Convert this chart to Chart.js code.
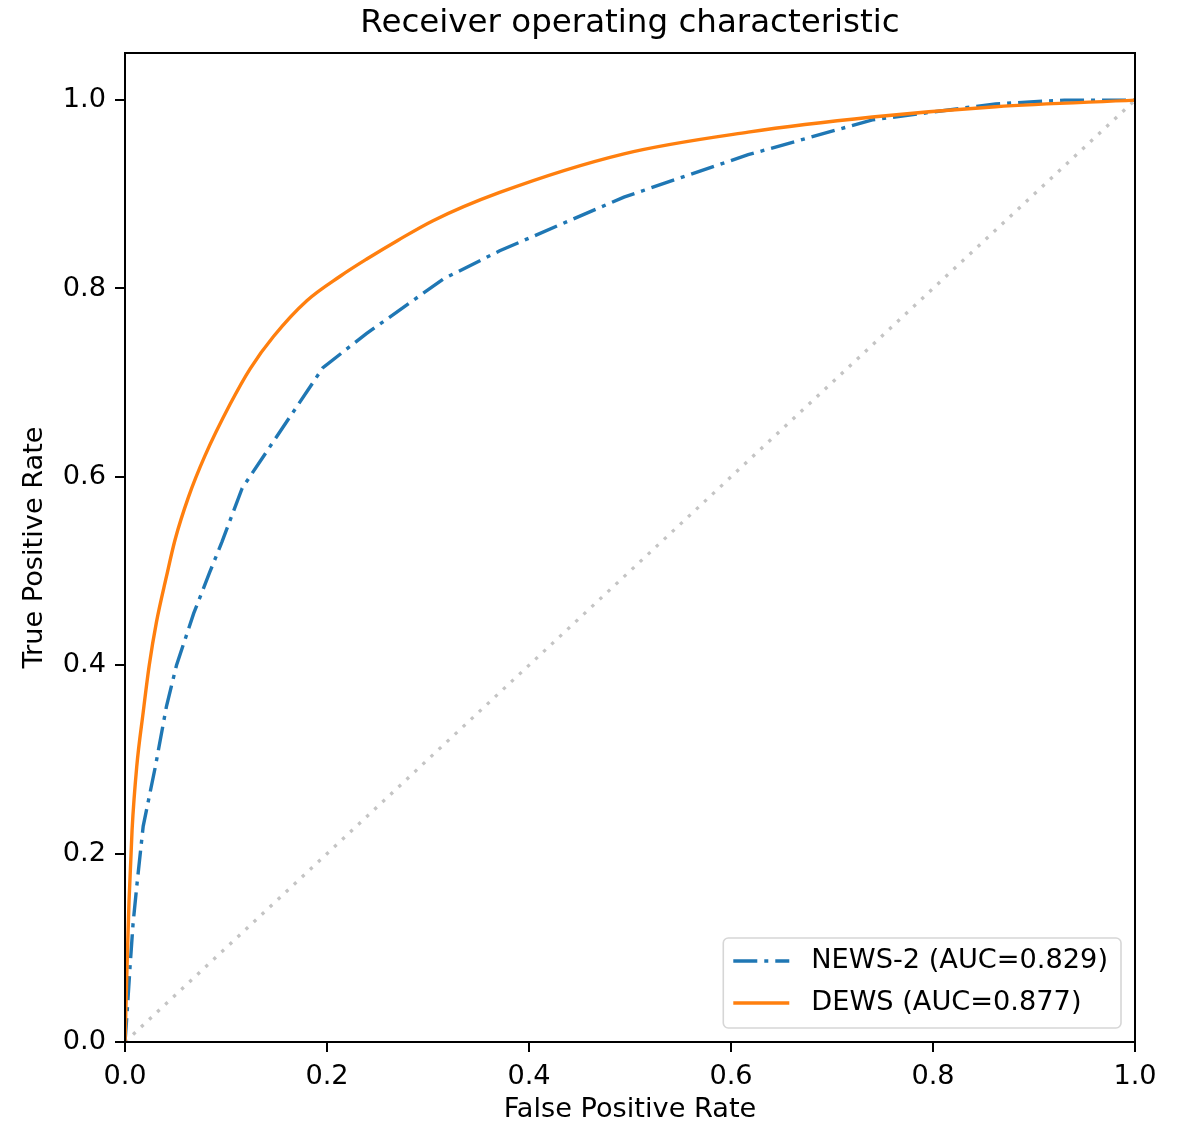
<!DOCTYPE html>
<html>
<head>
<meta charset="utf-8">
<script src="https://cdn.jsdelivr.net/npm/chart.js@4.4.1/dist/chart.umd.min.js"></script>
<style>
  html, body { margin: 0; padding: 0; background: #ffffff; }
  #wrap { width: 1179px; height: 1127px; position: relative; }
</style>
</head>
<body>
<div id="wrap"><canvas id="c" width="1179" height="1127"></canvas></div>
<script>
// ---- data ----
const titleText = 'Receiver operating characteristic';
const xTitle = 'False Positive Rate';
const yTitle = 'True Positive Rate';

const newsLabel = 'NEWS-2 (AUC=0.829)';
const newsFpr = [0, 0.002, 0.005, 0.008, 0.012, 0.018, 0.030, 0.041, 0.051, 0.068, 0.084, 0.096, 0.116, 0.196, 0.239, 0.315, 0.371, 0.494, 0.617, 0.740, 0.862, 0.930, 1.0];
const newsTpr = [0, 0.030, 0.080, 0.126, 0.169, 0.229, 0.292, 0.356, 0.400, 0.455, 0.499, 0.531, 0.588, 0.716, 0.752, 0.810, 0.840, 0.897, 0.942, 0.979, 0.996, 1.0, 1.0];

const dewsLabel = 'DEWS (AUC=0.877)';
const dewsFpr = [0, 0.002, 0.004, 0.007, 0.0116, 0.018, 0.024, 0.031, 0.041, 0.0495, 0.063, 0.079, 0.104, 0.124, 0.147, 0.180, 0.213, 0.239, 0.270, 0.305, 0.371, 0.494, 0.617, 0.740, 0.862, 1.0];
const dewsTpr = [0, 0.080, 0.150, 0.225, 0.292, 0.350, 0.400, 0.445, 0.494, 0.533, 0.579, 0.622, 0.677, 0.715, 0.749, 0.787, 0.813, 0.831, 0.851, 0.872, 0.902, 0.943, 0.966, 0.982, 0.993, 1.0];

const diagX = [0, 1];
const diagY = [0, 1];

const xTicks = [0, 0.2, 0.4, 0.6, 0.8, 1.0];
const yTicks = [0, 0.2, 0.4, 0.6, 0.8, 1.0];

// ---- build ----
const toPts = (xs, ys) => xs.map((x, i) => ({ x: x, y: ys[i] }));
const FONT = 'DejaVu Sans';
const LABEL_SIZE = 27.2;
Chart.defaults.font.family = FONT;
Chart.defaults.color = '#000000';

const framePlugin = {
  id: 'frame',
  afterDatasetsDraw(chart) {
    const a = chart.chartArea, ctx = chart.ctx;
    ctx.save();
    ctx.strokeStyle = '#000000';
    ctx.lineWidth = 2;
    ctx.strokeRect(a.left, a.top, a.right - a.left, a.bottom - a.top);
    ctx.restore();
  }
};

const legendPlugin = {
  id: 'boxLegend',
  afterDraw(chart) {
    const a = chart.chartArea, ctx = chart.ctx;
    const items = chart.data.datasets.filter(d => d.inLegend);
    ctx.save();
    ctx.font = LABEL_SIZE + 'px "' + FONT + '"';
    let tw = 0;
    items.forEach(d => { tw = Math.max(tw, ctx.measureText(d.label).width); });
    const padL = 10, sample = 56, gap = 22, padR = 13, rowH = 42;
    const w = padL + sample + gap + tw + padR;
    const h = 90;
    const x0 = a.right - 14 - w, y0 = a.bottom - 14 - h;
    ctx.beginPath();
    if (ctx.roundRect) ctx.roundRect(x0, y0, w, h, 5); else ctx.rect(x0, y0, w, h);
    ctx.fillStyle = 'rgba(255,255,255,0.8)';
    ctx.fill();
    ctx.strokeStyle = '#d6d6d6';
    ctx.lineWidth = 1.6;
    ctx.stroke();
    items.forEach((d, i) => {
      const cy = y0 + 23 + i * rowH;
      ctx.beginPath();
      ctx.setLineDash(d.borderDash || []);
      ctx.strokeStyle = d.borderColor;
      ctx.lineWidth = d.borderWidth;
      ctx.moveTo(x0 + padL, cy);
      ctx.lineTo(x0 + padL + sample, cy);
      ctx.stroke();
      ctx.setLineDash([]);
      ctx.fillStyle = '#000000';
      ctx.textBaseline = 'middle';
      ctx.textAlign = 'left';
      ctx.fillText(d.label, x0 + padL + sample + gap, cy);
    });
    ctx.restore();
  }
};

const axisCommon = {
  type: 'linear',
  grid: { drawOnChartArea: false, drawTicks: true, tickLength: 10, color: '#000000', lineWidth: 2 },
  border: { display: true, color: '#000000', width: 2 },
  ticks: { font: { size: LABEL_SIZE, family: FONT }, color: '#000000', padding: 9, callback: v => Number(v).toFixed(1) }
};

new Chart(document.getElementById('c'), {
  type: 'scatter',
  data: {
    datasets: [
      {
        label: newsLabel, inLegend: true, data: toPts(newsFpr, newsTpr), showLine: true,
        borderColor: '#1f77b4', backgroundColor: '#1f77b4', borderWidth: 3.4,
        borderDash: [24, 7, 4, 7], pointRadius: 0, tension: 0, order: 2
      },
      {
        label: dewsLabel, inLegend: true, data: toPts(dewsFpr, dewsTpr), showLine: true,
        borderColor: '#ff7f0e', backgroundColor: '#ff7f0e', borderWidth: 3.4,
        pointRadius: 0, cubicInterpolationMode: 'monotone', order: 1
      },
      {
        label: 'chance', inLegend: false, data: toPts(diagX, diagY), showLine: true,
        borderColor: '#c4c4c4', borderWidth: 3.3, borderDash: [3.3, 7.7],
        pointRadius: 0, tension: 0, order: 3
      }
    ]
  },
  options: {
    responsive: false,
    animation: false,
    events: [],
    layout: { padding: { left: 0, right: 44, top: 0, bottom: 0 } },
    plugins: {
      legend: { display: false },
      tooltip: { enabled: false },
      title: {
        display: true, text: titleText, fullSize: false, color: '#000000',
        font: { size: 32.5, weight: 'normal', family: FONT },
        padding: { top: 4, bottom: 10 }
      }
    },
    scales: {
      x: Object.assign({}, axisCommon, {
        position: 'bottom', min: 0, max: 1,
        afterBuildTicks: s => { s.ticks = xTicks.map(v => ({ value: v })); },
        afterFit: s => { s.height = 85; },
        title: { display: true, text: xTitle, color: '#000000', font: { size: LABEL_SIZE, family: FONT }, padding: { top: 4, bottom: 1 } }
      }),
      y: Object.assign({}, axisCommon, {
        position: 'left', min: 0, max: 1.05,
        afterBuildTicks: s => { s.ticks = yTicks.map(v => ({ value: v })); },
        afterFit: s => { s.width = 125; },
        title: { display: true, text: yTitle, color: '#000000', font: { size: LABEL_SIZE, family: FONT }, padding: { top: 19, bottom: 4 } }
      })
    }
  },
  plugins: [framePlugin, legendPlugin]
});
</script>
</body>
</html>
